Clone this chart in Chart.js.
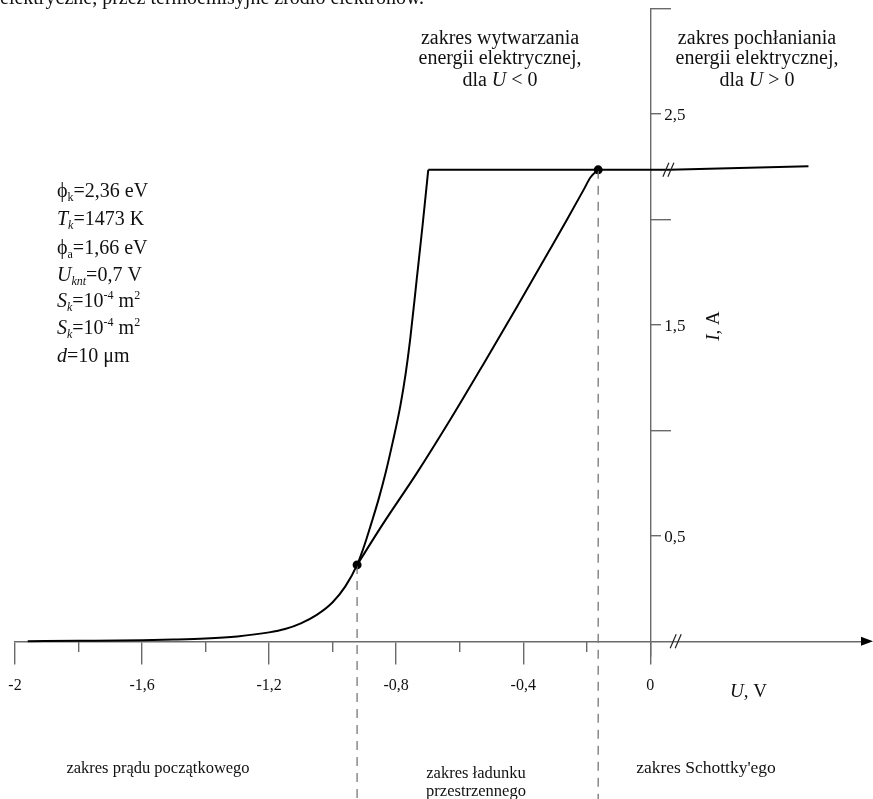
<!DOCTYPE html>
<html><head><meta charset="utf-8">
<script src="https://cdn.jsdelivr.net/npm/chart.js@4/dist/chart.umd.min.js"></script>
<style>html,body{margin:0;padding:0;background:#fff}#wrap{width:873px;height:799px;position:relative}canvas{display:block}</style>
</head><body><div id="wrap"><canvas id="c" width="873" height="799"></canvas></div>
<script>
// ---- data (U in V, I in A) ----
const initialU = [-1.96, -1.8, -1.6, -1.5, -1.4, -1.3, -1.2, -1.15, -1.1, -1.05, -1.0, -0.96, -0.923];
const initialI = [0.0, 0.002, 0.005, 0.008, 0.013, 0.023, 0.042, 0.058, 0.085, 0.125, 0.185, 0.26, 0.362];
const steepU = [-0.9, -0.878, -0.855, -0.833, -0.81, -0.787, -0.77, -0.756, -0.735, -0.717, -0.699];
const steepI = [0.455, 0.56, 0.675, 0.8, 0.95, 1.115, 1.27, 1.43, 1.72, 1.97, 2.235];
const satU = [-0.699, -0.164, 0.0, 0.06, 0.498];
const satI = [2.235, 2.235, 2.235, 2.235, 2.252];
const chargeU = [-0.923, -0.84, -0.735, -0.63, -0.525, -0.42, -0.315, -0.262, -0.21, -0.188, -0.164];
const chargeI = [0.362, 0.56, 0.797, 1.05, 1.315, 1.585, 1.86, 2.0, 2.14, 2.2, 2.235];
const markU = [-0.923, -0.164];
const markI = [0.362, 2.235];
const boundaryBottomI = -0.75;

const xMajorTicks = [-2, -1.6, -1.2, -0.8, -0.4, 0];
const xMajorLabels = ['-2', '-1,6', '-1,2', '-0,8', '-0,4', '0'];
const xMinorTicks = [-1.8, -1.4, -1.0, -0.6, -0.2];
const yLabeledTicks = [0.5, 1.5, 2.5];
const yLabeledText = ['0,5', '1,5', '2,5'];
const yLongTicks = [1, 2, 3];

const pts = (u, i) => u.map((v, k) => ({x: v, y: i[k]}));
const SERIF = '"Liberation Serif", "Times New Roman", serif';
const AX = '#6a6a6a';

const textPlugin = {
  id: 'texts',
  afterDraw(chart) {
    const ctx = chart.ctx;
    const sx = chart.scales.x, sy = chart.scales.y;
    ctx.save();
    // arrow on x axis
    const y0 = sy.getPixelForValue(0);
    const x0 = sx.getPixelForValue(0);
    ctx.strokeStyle = AX; ctx.lineWidth = 1.4;
    ctx.beginPath(); ctx.moveTo(chart.chartArea.right - 1, y0); ctx.lineTo(866, y0); ctx.stroke();
    ctx.fillStyle = '#000';
    ctx.beginPath();
    ctx.moveTo(873, y0); ctx.lineTo(861, y0 - 4.5); ctx.lineTo(861, y0 + 4.5); ctx.closePath(); ctx.fill();
    // break marks
    function brk(u, i) {
      const px = sx.getPixelForValue(u), py = sy.getPixelForValue(i);
      ctx.strokeStyle = '#222'; ctx.lineWidth = 1.2;
      for (const d of [-2.5, 2.5]) {
        ctx.beginPath(); ctx.moveTo(px + d - 3, py + 7); ctx.lineTo(px + d + 3, py - 7); ctx.stroke();
      }
    }
    brk(0.08, 0); brk(0.057, 2.235);

    function rich(x, y, segs, size, align) {
      const fnt = (s) => (s.i ? 'italic ' : '') + ((s.sub || s.sup) ? Math.round(size * 0.62) : size) + 'px ' + SERIF;
      let w = 0;
      for (const s of segs) { ctx.font = fnt(s); w += ctx.measureText(s.t).width; }
      let cx = align === 'center' ? x - w / 2 : x;
      ctx.textAlign = 'left'; ctx.textBaseline = 'alphabetic'; ctx.fillStyle = '#111';
      for (const s of segs) {
        ctx.font = fnt(s);
        const dy = s.sub ? size * 0.22 : (s.sup ? -size * 0.38 : 0);
        ctx.fillText(s.t, cx, y + dy);
        cx += ctx.measureText(s.t).width;
      }
    }
    // y tick labels (right of the axis)
    yLabeledTicks.forEach((v, k) => {
      rich(x0 + 14, sy.getPixelForValue(v) + 6, [{t: yLabeledText[k]}], 17, 'left');
    });
    // cut-off line of text at the very top
    rich(0, 4, [{t: 'elektryczne, przez termoemisyjne źródło elektronów.'}], 20, 'left');
    // region headers
    rich(500, 44, [{t: 'zakres wytwarzania'}], 20, 'center');
    rich(500, 64, [{t: 'energii elektrycznej,'}], 20, 'center');
    rich(500, 86, [{t: 'dla '}, {t: 'U', i: 1}, {t: ' < 0'}], 20, 'center');
    rich(757, 44, [{t: 'zakres pochłaniania'}], 20, 'center');
    rich(757, 64, [{t: 'energii elektrycznej,'}], 20, 'center');
    rich(757, 86, [{t: 'dla '}, {t: 'U', i: 1}, {t: ' > 0'}], 20, 'center');
    // parameters
    const params = [
      [{t: 'ϕ'}, {t: 'k', sub: 1}, {t: '=2,36 eV'}],
      [{t: 'T', i: 1}, {t: 'k', sub: 1, i: 1}, {t: '=1473 K'}],
      [{t: 'ϕ'}, {t: 'a', sub: 1}, {t: '=1,66 eV'}],
      [{t: 'U', i: 1}, {t: 'knt', sub: 1, i: 1}, {t: '=0,7 V'}],
      [{t: 'S', i: 1}, {t: 'k', sub: 1, i: 1}, {t: '=10'}, {t: '-4', sup: 1}, {t: ' m'}, {t: '2', sup: 1}],
      [{t: 'S', i: 1}, {t: 'k', sub: 1, i: 1}, {t: '=10'}, {t: '-4', sup: 1}, {t: ' m'}, {t: '2', sup: 1}],
      [{t: 'd', i: 1}, {t: '=10 μm'}]
    ];
    const py = [197, 225, 254, 281, 307, 334, 362];
    params.forEach((p, k) => rich(57, py[k], p, 20, 'left'));
    // bottom region names
    rich(158, 773, [{t: 'zakres prądu początkowego'}], 16.5, 'center');
    rich(476, 778, [{t: 'zakres ładunku'}], 16.5, 'center');
    rich(476, 796, [{t: 'przestrzennego'}], 16.5, 'center');
    rich(706, 773, [{t: "zakres Schottky'ego"}], 17.5, 'center');
    // axis titles
    rich(730, 697, [{t: 'U', i: 1}, {t: ', V'}], 19, 'left');
    ctx.save();
    ctx.translate(719, 326); ctx.rotate(-Math.PI / 2);
    rich(0, 0, [{t: 'I', i: 1}, {t: ', A'}], 19, 'center');
    ctx.restore();
    ctx.restore();
  }
};

new Chart(document.getElementById('c'), {
  type: 'scatter',
  data: {
    datasets: [
      {data: pts(initialU.concat(steepU), initialI.concat(steepI)), showLine: true, borderColor: '#000', borderWidth: 2, pointRadius: 0, cubicInterpolationMode: 'monotone'},
      {data: pts(satU, satI), showLine: true, borderColor: '#000', borderWidth: 2, pointRadius: 0, tension: 0, clip: false},
      {data: pts(chargeU, chargeI), showLine: true, borderColor: '#000', borderWidth: 2, pointRadius: 0, cubicInterpolationMode: 'monotone'},
      {data: [{x: markU[0], y: markI[0]}, {x: markU[0], y: boundaryBottomI}], showLine: true, borderColor: '#777', borderWidth: 1.3, borderDash: [9, 7], pointRadius: 0, clip: false},
      {data: [{x: markU[1], y: markI[1]}, {x: markU[1], y: boundaryBottomI}], showLine: true, borderColor: '#777', borderWidth: 1.3, borderDash: [9, 7], pointRadius: 0, clip: false},
      {data: pts(markU, markI), showLine: false, pointRadius: 4.5, pointBackgroundColor: '#000', pointBorderColor: '#000', pointBorderWidth: 0}
    ]
  },
  options: {
    responsive: false, devicePixelRatio: 1, animation: false,
    layout: {padding: {left: 15, right: 0, top: 8.5, bottom: 143}},
    plugins: {legend: {display: false}, tooltip: {enabled: false}},
    scales: {
      x: {
        type: 'linear', min: -2, max: 0.687, position: {y: 0},
        afterBuildTicks: s => { s.ticks = xMajorTicks.map(v => ({value: v})); },
        ticks: {callback: (v, i) => xMajorLabels[i], font: {family: SERIF, size: 16, lineHeight: 1.9}, color: '#111', padding: 7, maxRotation: 0, autoSkip: false},
        grid: {drawOnChartArea: false, tickLength: 22, color: AX, lineWidth: 1.4},
        border: {color: AX, width: 1.4}
      },
      x2: {
        type: 'linear', axis: 'x', min: -2, max: 0.687, position: {y: 0},
        afterBuildTicks: s => { s.ticks = xMinorTicks.map(v => ({value: v})); },
        ticks: {display: false},
        grid: {drawOnChartArea: false, tickLength: 11, color: AX, lineWidth: 1.4},
        border: {display: false}
      },
      y: {
        type: 'linear', min: -0.07, max: 3, position: {x: 0},
        afterBuildTicks: s => { s.ticks = yLabeledTicks.map(v => ({value: v})); },
        ticks: {display: false},
        grid: {drawOnChartArea: false, tickLength: -11, color: AX, lineWidth: 1.4},
        border: {color: AX, width: 1.4}
      },
      y2: {
        type: 'linear', axis: 'y', min: -0.07, max: 3, position: {x: 0},
        afterBuildTicks: s => { s.ticks = yLongTicks.map(v => ({value: v})); },
        ticks: {display: false},
        grid: {drawOnChartArea: false, tickLength: -21, color: AX, lineWidth: 1.4},
        border: {display: false}
      }
    }
  },
  plugins: [textPlugin]
});
</script>
</body></html>
